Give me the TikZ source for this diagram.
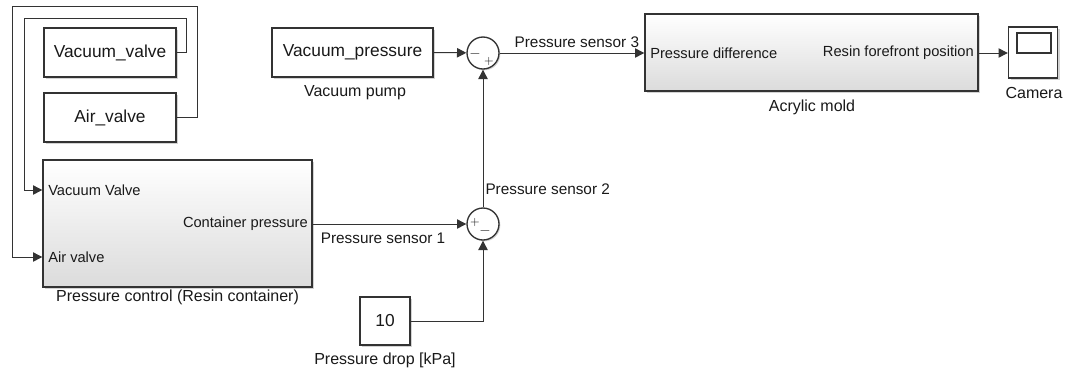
\documentclass[tikz,border=0pt]{standalone}
\usepackage{fontspec}
\setmainfont{Liberation Sans}
\usetikzlibrary{arrows.meta,shadows}
\tikzset{
    % lines and arrows
    myarr/.style={-{Triangle[length=7pt,width=7pt]}, line width=0.75pt, draw=black!80},
    myline/.style={line width=0.75pt, draw=black!80},
    % texts
    mylab/.style={font=\fontsize{11.5}{13}\selectfont, text=black!90, inner sep=0pt},
    myname/.style={font=\fontsize{12}{14}\selectfont, text=black!90, inner sep=0pt},
    myport/.style={font=\fontsize{11}{13}\selectfont, text=black!90, inner sep=0pt},
    % blocks
    myblock/.style={draw=black!80, line width=1pt, fill=white, text=black!90,
        font=\fontsize{13}{15}\selectfont,
        drop shadow={shadow xshift=1.5pt, shadow yshift=-1.5pt, opacity=0.35}},
    mysub/.style={myblock, top color=white, bottom color=black!14},
    mysum/.style={circle, draw=black!80, line width=1pt, fill=white, minimum size=24pt, inner sep=0pt,
        drop shadow={shadow xshift=1pt, shadow yshift=-1pt, opacity=0.35}}
}
\begin{document}
\begin{tikzpicture}[x=0.75pt, y=-0.75pt]
    \useasboundingbox (0,0) rectangle (1067,376);
 % valves
    \node (VV) at (110,52.5) [myblock, minimum width=99pt, minimum height=36.75pt] {Vacuum\_valve};
    \node (AV) at (110,117.5) [myblock, minimum width=99pt, minimum height=36.75pt] {Air\_valve};
 % resin container
    \node (PC) at (177.5,223.5) [mysub, minimum width=201.75pt, minimum height=95.25pt] {};
    \node (PCn) at (177.5,297) [myname] {Pressure control (Resin container)};
    \node (PCi1) at (48,190) [myport, anchor=west] {Vacuum Valve};
    \node (PCi2) at (48,257) [myport, anchor=west] {Air valve};
    \node (PCo) at (308,224) [myport, anchor=east] {Container pressure};
 % vacuum pump
    \node (VP) at (352.5,52.5) [myblock, minimum width=120.75pt, minimum height=36.75pt] {Vacuum\_pressure};
    \node (VPn) at (355,93) [myname] {Vacuum pump};
 % constant
    \node (K) at (385,321) [myblock, minimum width=37.5pt, minimum height=36pt] {10};
    \node (Kn) at (385,360) [myname] {Pressure drop [kPa]};
 % sums
    \node (S1) at (483,53) [mysum] {};
    \node at (475,54) [myport] {$-$};
    \node at (489,61) [myport, font=\fontsize{9}{10}\selectfont] {$+$};
    \node (S2) at (483,224) [mysum] {};
    \node at (475,222) [myport, font=\fontsize{9}{10}\selectfont] {$+$};
    \node at (485,231) [myport] {$-$};
 % acrylic mold
    \node (AM) at (811.5,52.5) [mysub, minimum width=249.75pt, minimum height=57.75pt] {};
    \node (AMn) at (812,107) [myname] {Acrylic mold};
    \node (AMi) at (650,53) [myport, anchor=west] {Pressure difference};
    \node (AMo) at (974,53) [myport, anchor=east] {Resin forefront position};
 % camera
    \node (CAM) at (1033,52.5) [myblock, minimum width=36.75pt, minimum height=38.25pt] {};
    \node (CAMs) at (1034,43) [draw=black!80, line width=0.9pt, minimum width=25.5pt, minimum height=15pt, inner sep=0pt] {};
    \node (CAMn) at (1034,93) [myname] {Camera};

     % ARROWS
       \draw[myarr] (VV.east) -- (186,52.5) -- (186,18) -- (24,18) |- (PC.west |- PCi1);
       \draw[myarr] (AV.east) -- (197,117.5) -- (197,6) -- (12,6) |- (PC.west |- PCi2);
       \draw[myarr] (PC.east |- PCo) -- (S2) node[pos=0.05, anchor=north west, yshift=-6pt, mylab] {Pressure sensor 1};
       \draw[myarr] (K.east) -| (S2);
       \draw[myarr] (S2) -- (S1) node[pos=0.13, anchor=west, xshift=1.5pt, mylab] {Pressure sensor 2};
       \draw[myarr] (VP.east) -- (S1);
       \draw[myarr] (S1) -- (AM.west |- AMi) node[pos=0.1, anchor=south west, yshift=4pt, mylab] {Pressure sensor 3};
       \draw[myarr] (AM.east |- AMo) -- (CAM.west |- AMo);

\end{tikzpicture}
\end{document}
